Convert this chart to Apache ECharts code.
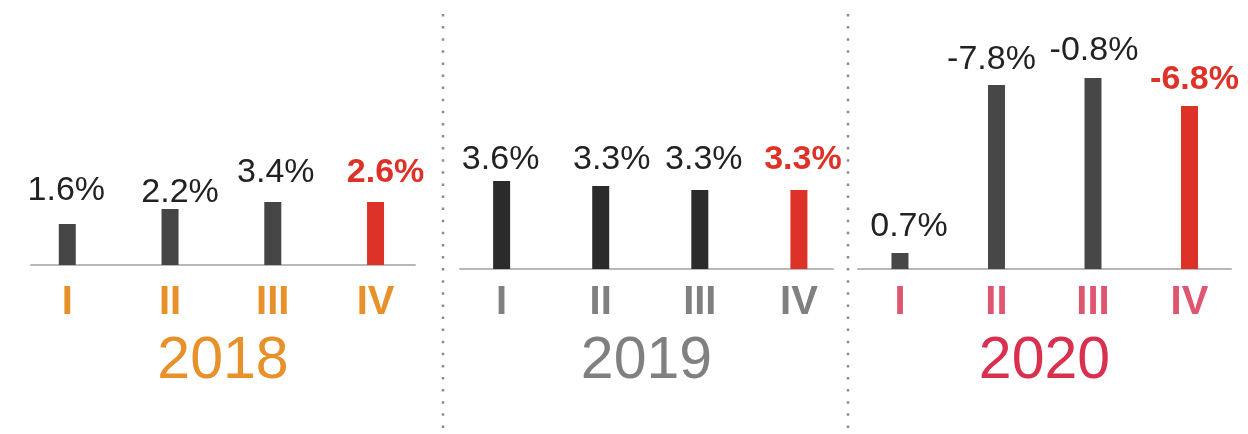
<!DOCTYPE html>
<html>
<head>
<meta charset="utf-8">
<style>
  html, body { margin: 0; padding: 0; background: #ffffff; }
  #chart { width: 1248px; height: 434px; }
</style>
<script src="https://cdn.jsdelivr.net/npm/echarts@6/dist/echarts.min.js"></script>
</head>
<body>
<div id="chart"></div>
<script>
// Quarter names and year panels
const quarters = ['I', 'II', 'III', 'IV'];
const years = ['2018', '2019', '2020'];

// Bar heights per quarter (index units)
const bars2018 = [4.1, 5.6, 6.3, 6.3];
const bars2019 = [8.8, 8.3, 7.9, 7.9];
const bars2020 = [1.6, 18.4, 19.1, 16.3];

// Growth annotations printed above each bar
const growth2018 = ['1.6%', '2.2%', '3.4%', '2.6%'];
const growth2019 = ['3.6%', '3.3%', '3.3%', '3.3%'];
const growth2020 = ['0.7%', '-7.8%', '-0.8%', '-6.8%'];

const FONT = '"Liberation Sans", Arial, Helvetica, sans-serif';
const RED = '#dd3227';

// Panel layout and colouring; nudge = per-label [dx, dy] in pixels
const panels = [
  { year: years[0], bars: bars2018, growth: growth2018, left: 31, width: 384, top: 65,
    min: -0.353, max: 3.384, barColor: '#454545', qColor: '#e8902a', yColor: '#e8902a', gap: 67, margin: 18,
    nudge: [[-1, -7], [10, 10], [3, -3], [10, -3]] },
  { year: years[1], bars: bars2019, growth: growth2019, left: 460, width: 373, top: 69,
    min: -0.42, max: 3.344, barColor: '#2b2b2b', qColor: '#808080', yColor: '#808080', gap: 63, margin: 14,
    nudge: [[-1, 5], [11, 0], [4, -4], [4, -4]] },
  { year: years[2], bars: bars2020, growth: growth2020, left: 858, width: 373, top: 69,
    min: -0.435, max: 3.43, barColor: '#474747', qColor: '#df5670', yColor: '#d9304f', gap: 63, margin: 14,
    nudge: [[9, 0], [-5, 1], [1, -1], [5, 0]] }
];

const grid = [], xAxis = [], yAxis = [], series = [];

panels.forEach((p, i) => {
  grid.push({ left: p.left, width: p.width, top: p.top, height: 200 });

  xAxis.push({
    type: 'value', gridIndex: i, min: p.min, max: p.max,
    axisLine: { show: true, onZero: true, lineStyle: { color: '#b8b8b8', width: 2 } },
    axisTick: { show: false },
    splitLine: { show: false },
    axisLabel: {
      customValues: [0, 1, 2, 3],
      formatter: v => quarters[Math.round(v)],
      margin: p.margin,
      color: p.qColor, fontFamily: FONT, fontWeight: 'bold',
      fontSize: 40, lineHeight: 40
    },
    name: p.year, nameLocation: 'middle', nameGap: p.gap,
    nameTextStyle: { color: p.yColor, fontFamily: FONT, fontSize: 59, lineHeight: 59 }
  });

  yAxis.push({ type: 'value', gridIndex: i, min: 0, max: 20, show: false, splitLine: { show: false } });

  series.push({
    type: 'bar', xAxisIndex: i, yAxisIndex: i, barWidth: 17,
    data: p.bars.map((v, q) => {
      const last = q === quarters.length - 1;
      return {
        value: [q, v],
        itemStyle: { color: last ? RED : p.barColor },
        label: {
          color: last ? RED : '#222222',
          fontWeight: last ? 'bold' : 'normal',
          offset: p.nudge[q]
        }
      };
    }),
    label: {
      show: true, position: 'top', distance: 9,
      fontFamily: FONT, fontSize: 34, lineHeight: 34,
      formatter: prm => p.growth[prm.dataIndex]
    },
    silent: true
  });
});

// Dotted separators between year panels
const dividers = [443, 848].map(x => ({
  type: 'line',
  shape: { x1: x, y1: 14, x2: x, y2: 432 },
  style: { stroke: '#8c8c8c', lineWidth: 2.5, lineDash: [2.5, 9.6] },
  silent: true
}));

const chart = echarts.init(document.getElementById('chart'), null, { renderer: 'canvas' });
chart.setOption({
  animation: false,
  backgroundColor: '#ffffff',
  grid, xAxis, yAxis, series,
  graphic: dividers
});
</script>
</body>
</html>
